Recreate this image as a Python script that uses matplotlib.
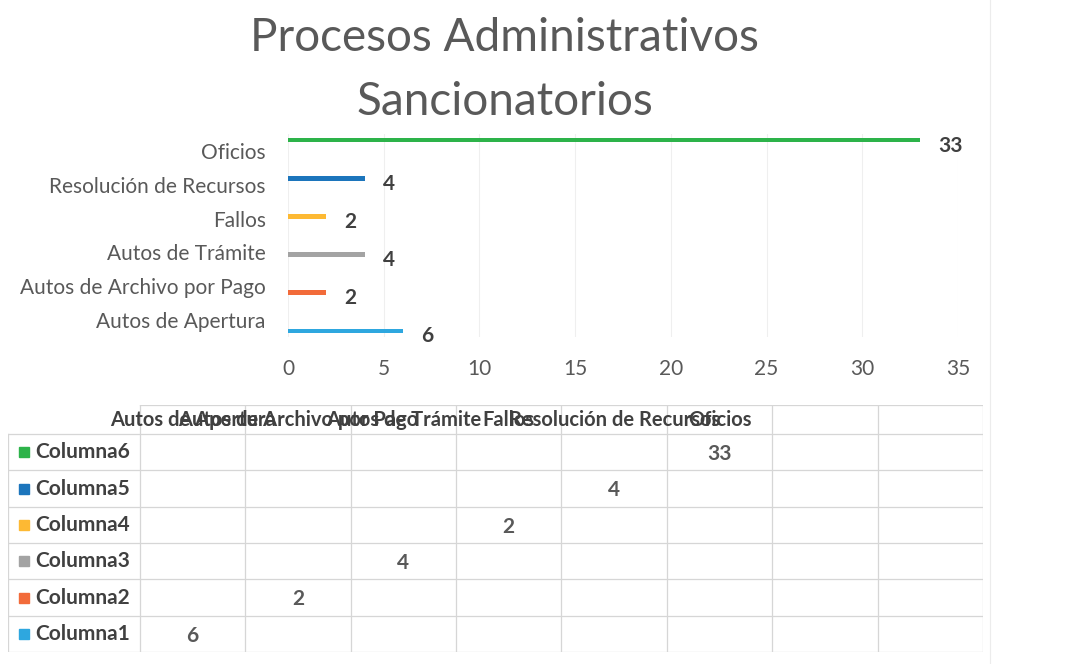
import numpy as np
import matplotlib.pyplot as plt

plt.rcParams['font.family'] = ['Lato', 'DejaVu Sans']

# datos del grafico
categorias = ['Autos de Apertura', 'Autos de Archivo por Pago', 'Autos de Trámite',
              'Fallos', 'Resolución de Recursos', 'Oficios']
series = ['Columna1', 'Columna2', 'Columna3', 'Columna4', 'Columna5', 'Columna6']
valores = [6, 2, 4, 2, 4, 33]
colores = ['#2EA7DF', '#F26B3A', '#A3A3A3', '#FDB933', '#1C75BC', '#2DB34A']

titulo = 'Procesos Administrativos\nSancionatorios'
gris_texto = '#595959'
gris_oscuro = '#404040'

fig = plt.figure(figsize=(10.67, 6.64), dpi=100)

fig.text(0.473, 0.975, titulo, ha='center', va='top', fontsize=33,
         color=gris_texto, linespacing=1.65)

# borde derecho del area del grafico
fig.add_artist(plt.Line2D([990 / 1067] * 2, [0, 1], color='#ececec', linewidth=0.8))

# barras agrupadas: cada serie tiene un solo valor en su categoria
ax = fig.add_axes([288 / 1067, 1 - 337 / 664, 670 / 1067, 203 / 664])
n = len(series)
h = 1 / (n + 1.82)
for i, (cat, v) in enumerate(zip(categorias, valores)):
    y = i + (i - (n - 1) / 2) * h
    ax.barh(y, v, height=h * 1.1, color=colores[i])
    ax.annotate(str(v), (v, y), xytext=(13, -4), textcoords='offset points',
                ha='left', va='center', fontsize=15, fontweight='bold',
                color=gris_oscuro)

ax.set_xlim(0, 35)
ax.set_ylim(-0.5, len(categorias) - 0.5)
ax.set_xticks(np.arange(0, 36, 5))
ax.set_yticks(range(len(categorias)))
ax.set_yticklabels(categorias)
ax.tick_params(axis='x', length=0, pad=16, labelsize=15, labelcolor=gris_texto)
ax.tick_params(axis='y', length=0, pad=16, labelsize=15, labelcolor=gris_texto)
ax.grid(axis='x', color='#efefef', linewidth=0.8)
ax.set_axisbelow(True)
for s in ax.spines.values():
    s.set_visible(False)

# tabla de datos debajo del grafico
tb = fig.add_axes([8 / 1067, 1 - 652 / 664, 975 / 1067, 247 / 664])
ncol = 8
lab_w = 132 / 105.4
top = -0.8
tb.set_xlim(-lab_w, ncol)
tb.set_ylim(n, top)
tb.axis('off')
linea = dict(color='#d6d6d6', linewidth=0.9)
tb.plot([0, ncol], [top, top], **linea)
for r in range(n + 1):
    tb.plot([-lab_w, ncol], [r, r], **linea)
for c in range(ncol + 1):
    tb.plot([c, c], [top, n], **linea)
tb.plot([-lab_w, -lab_w], [0, n], **linea)

for j, cat in enumerate(categorias):
    tb.text(j + 0.5, top / 2, cat, ha='center', va='center', fontsize=14.5,
            fontweight='bold', color=gris_oscuro)

for i in range(n):
    fila = n - 1 - i
    tb.plot(-lab_w + 0.15, fila + 0.5, 's', color=colores[i], markersize=7)
    tb.text(-lab_w + 0.26, fila + 0.5, series[i], ha='left', va='center',
            fontsize=15, fontweight='bold', color=gris_oscuro)
    tb.text(i + 0.5, fila + 0.55, str(valores[i]), ha='center', va='center',
            fontsize=15, fontweight='bold', color=gris_texto)

fig.savefig('out.png', dpi=100)
